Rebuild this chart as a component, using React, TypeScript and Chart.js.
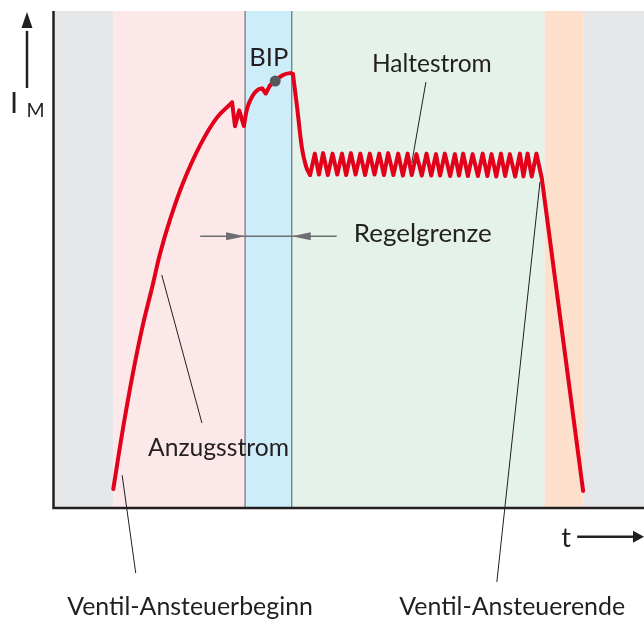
import { useEffect, useRef } from "react";
import { Chart, registerables } from "chart.js";

Chart.register(...registerables);

// ---- DATA (time t: 0..100 arbitrary units, current I_M: 0..100 arbitrary units) ----
const phaseBounds = [0, 10.2, 32.5, 40.4, 83.2, 89.8, 100];
const phaseNames = ["Ruhe", "Anzug", "Regelgrenze", "Halten", "Abschalten", "Ruhe"];

// pull-in current rise (smooth)
const riseCurve: [number, number][] = [
  [10.2, 3.8], [11.8, 15.7], [13.5, 27.0], [15.2, 36.8], [16.8, 44.5],
  [18.1, 51.1], [19.8, 58.0], [22.0, 65.4], [24.9, 73.0], [27.7, 78.5], [30.3, 81.6],
];
// first regulation spikes (straight)
const spikesA: [number, number][] = [
  [30.3, 81.6], [30.8, 76.8], [31.5, 80.0], [32.3, 76.9],
];
// hump after spikes (smooth)
const humpA: [number, number][] = [
  [32.3, 76.9], [32.9, 80.6], [33.8, 83.0], [34.7, 84.2], [35.4, 84.4],
];
// small notch (straight)
const notch: [number, number][] = [
  [35.4, 84.4], [36.0, 83.4], [36.7, 85.0],
];
// rise to maximum (smooth)
const humpB: [number, number][] = [
  [36.7, 85.0], [37.7, 86.1], [38.9, 87.1], [40.1, 87.5], [40.6, 87.3],
];
// drop to holding current (smooth)
const dropCurve: [number, number][] = [
  [40.6, 87.3], [41.3, 80.7], [42.1, 72.6], [42.8, 68.8], [43.5, 67.0],
];
// holding current ripple + switch-off (straight)
const holdCurve: [number, number][] = [
  [43.5, 67.0], [44.3, 71.3], [45.0, 67.1], [45.7, 71.4], [46.5, 67.0],
  [47.3, 71.3], [48.1, 67.1], [48.9, 71.3], [49.6, 67.0], [50.4, 71.4],
  [51.2, 67.1], [52.0, 71.3], [52.8, 67.0], [53.6, 71.3], [54.4, 67.1],
  [55.2, 71.3], [56.0, 67.0], [56.7, 71.4], [57.6, 67.0], [58.4, 71.3],
  [59.2, 66.9], [60.0, 71.3], [60.7, 67.0], [61.5, 71.2], [62.4, 66.9],
  [63.2, 71.3], [64.0, 66.9], [64.8, 71.2], [65.5, 66.9], [66.3, 71.3],
  [67.2, 66.8], [68.0, 71.2], [68.7, 66.9], [69.4, 71.3], [70.2, 66.8],
  [71.0, 71.2], [71.9, 66.8], [72.7, 71.3], [73.5, 66.8], [74.2, 71.2],
  [75.0, 66.7], [75.8, 71.3], [76.5, 66.8], [77.3, 71.2], [78.2, 66.7],
  [79.0, 71.3], [79.6, 66.7], [80.3, 71.3], [81.0, 66.7], [81.8, 71.3],
  [82.7, 66.4], [89.7, 3.4],
];
// BIP (begin of injection period) marker
const bipPoint: [number, number][] = [[37.6, 85.9]];

const labelTexts = [
  "BIP", "Haltestrom", "Regelgrenze", "Anzugsstrom",
  "Ventil-Ansteuerbeginn", "Ventil-Ansteuerende",
];
const axisTitles = ["I", "M", "t"];

// ---- STYLE ----
const FONT = 'Lato, "DejaVu Sans", sans-serif';
const TEXT = "#231f20";
const RED = "#e2001a";
const phaseColors = ["#e6e7e9", "#fce8e9", "#cdedfa", "#e4f2ea", "#fde0cb", "#e6e7e9"];

const toXY = (pts: [number, number][]) => pts.map(([x, y]) => ({ x, y }));

// label placement (data coords) + target widths (px)
const labelLayout = [
  { t: 36.5, i: 88.9, w: 39, align: "center" },
  { t: 64.1, i: 87.7, w: 120, align: "center" },
  { t: 50.9, i: 53.5, w: 138, align: "left" },
  { t: 28.0, i: 10.5, w: 141, align: "center" },
  { t: 23.2, i: -21.5, w: 246, align: "center" },
  { t: 77.7, i: -21.5, w: 226, align: "center" },
];
const leaders = [
  [63.1, 85.7, 60.7, 69.4],
  [18.4, 46.9, 25.2, 17.1],
  [11.7, 6.6, 14.0, -13.1],
  [82.4, 65.6, 75.1, -14.9],
];

const diagramPlugin = {
  id: "diagram",
  beforeDatasetsDraw(chart: any) {
    const { ctx, chartArea: a, scales } = chart;
    const x = scales.x;
    ctx.save();
    for (let k = 0; k < phaseNames.length; k++) {
      const x0 = x.getPixelForValue(phaseBounds[k]);
      const x1 = x.getPixelForValue(phaseBounds[k + 1]);
      ctx.fillStyle = phaseColors[k];
      ctx.fillRect(x0, a.top, x1 - x0, a.bottom - a.top);
    }
    ctx.strokeStyle = "#6d6e71";
    ctx.lineWidth = 1.2;
    for (const b of [phaseBounds[2], phaseBounds[3]]) {
      const px = x.getPixelForValue(b);
      ctx.beginPath();
      ctx.moveTo(px, a.top);
      ctx.lineTo(px, a.bottom);
      ctx.stroke();
    }
    ctx.restore();
  },
  afterDatasetsDraw(chart: any) {
    const { ctx, chartArea: a, scales } = chart;
    const X = (v: number) => scales.x.getPixelForValue(v);
    const Y = (v: number) => scales.y.getPixelForValue(v);
    ctx.save();

    // axes
    ctx.strokeStyle = TEXT;
    ctx.lineWidth = 2.5;
    ctx.beginPath();
    ctx.moveTo(a.left + 0.5, a.top);
    ctx.lineTo(a.left + 0.5, a.bottom);
    ctx.lineTo(a.right, a.bottom);
    ctx.stroke();

    // leader lines
    ctx.lineWidth = 1;
    ctx.strokeStyle = TEXT;
    for (const [t0, i0, t1, i1] of leaders) {
      ctx.beginPath();
      ctx.moveTo(X(t0), Y(i0));
      ctx.lineTo(X(t1), Y(i1));
      ctx.stroke();
    }

    const arrowHead = (tipX: number, tipY: number, dx: number, dy: number, len: number, half: number) => {
      const bx = tipX - dx * len, by = tipY - dy * len;
      ctx.beginPath();
      ctx.moveTo(tipX, tipY);
      ctx.lineTo(bx - dy * half, by + dx * half);
      ctx.lineTo(bx + dy * half, by - dx * half);
      ctx.closePath();
      ctx.fill();
    };

    // Regelgrenze arrows
    const ry = Y(54.7);
    const lx = X(phaseBounds[2]);
    const rx = X(phaseBounds[3]);
    ctx.strokeStyle = "#6d6e71";
    ctx.fillStyle = "#6d6e71";
    ctx.lineWidth = 1.5;
    ctx.beginPath();
    ctx.moveTo(X(24.9), ry);
    ctx.lineTo(X(48.0), ry);
    ctx.stroke();
    arrowHead(lx, ry, 1, 0, 19, 4);
    arrowHead(rx, ry, -1, 0, 19, 4);

    // y-axis arrow
    ctx.strokeStyle = TEXT;
    ctx.fillStyle = TEXT;
    ctx.lineWidth = 2.5;
    const ax = X(-4.4);
    ctx.beginPath();
    ctx.moveTo(ax, Y(84.5));
    ctx.lineTo(ax, Y(96));
    ctx.stroke();
    arrowHead(ax, Y(99.8), 0, -1, 16, 5.5);

    // t-axis arrow
    const ty = Y(-5.8);
    ctx.beginPath();
    ctx.moveTo(X(88.7), ty);
    ctx.lineTo(X(98.5), ty);
    ctx.stroke();
    arrowHead(X(100), ty, 1, 0, 11, 6);

    // texts
    ctx.fillStyle = TEXT;
    ctx.textBaseline = "alphabetic";
    labelTexts.forEach((txt, k) => {
      const L = labelLayout[k];
      ctx.font = `100px ${FONT}`;
      const w = ctx.measureText(txt).width;
      const size = (100 * L.w) / w;
      ctx.font = `${size}px ${FONT}`;
      ctx.textAlign = L.align;
      ctx.fillText(txt, X(L.t), Y(L.i));
    });
    ctx.textAlign = "center";
    ctx.font = `29px ${FONT}`;
    ctx.fillText(axisTitles[0], X(-6.6), Y(79.5));
    ctx.textAlign = "left";
    ctx.font = `19.5px ${FONT}`;
    ctx.fillText(axisTitles[1], X(-4.5), Y(78.7));
    ctx.textAlign = "center";
    ctx.font = `27px ${FONT}`;
    ctx.fillText(axisTitles[2], X(86.8), Y(-7.8));

    ctx.restore();
  },
};

export default function App() {
  const ref = useRef<HTMLCanvasElement | null>(null);
  useEffect(() => {
    if (!ref.current) return;
    const smooth = { tension: 0.4 };
    const mono = { cubicInterpolationMode: "monotone" as const };
    const straight = { tension: 0 };
    const base = {
      borderColor: RED,
      borderWidth: 4,
      pointRadius: 0,
      fill: false,
      borderJoinStyle: "round" as const,
      borderCapStyle: "round" as const,
    };
    const chart = new Chart(ref.current, {
      type: "line",
      data: {
        datasets: [
          {
            label: "BIP",
            data: toXY(bipPoint),
            showLine: false,
            pointRadius: 5.5,
            pointBackgroundColor: "#58595b",
            pointBorderWidth: 0,
            borderColor: "#58595b",
          },
          { label: "Anzugsstrom", data: toXY(riseCurve), ...base, ...smooth },
          { label: "Regelspitzen", data: toXY(spikesA), ...base, ...straight },
          { label: "Anstieg", data: toXY(humpA), ...base, ...smooth },
          { label: "Kerbe", data: toXY(notch), ...base, ...straight },
          { label: "Maximum", data: toXY(humpB), ...base, ...smooth },
          { label: "Abfall", data: toXY(dropCurve), ...base, ...mono },
          { label: "Haltestrom", data: toXY(holdCurve), ...base, ...straight },
        ],
      },
      options: {
        animation: false,
        responsive: false,
        devicePixelRatio: 1,
        layout: { autoPadding: false, padding: { left: 53, top: 11, right: 0, bottom: 114 } },
        scales: {
          x: { type: "linear", min: 0, max: 100, display: false },
          y: { type: "linear", min: 0, max: 100, display: false },
        },
        plugins: { legend: { display: false }, tooltip: { enabled: false } },
        events: [],
      },
      plugins: [diagramPlugin],
    });
    return () => chart.destroy();
  }, []);
  return (
    <div style={{ position: "fixed", left: 0, top: 0, width: 644, height: 622, background: "#fff" }}>
      <canvas ref={ref} width={644} height={622} style={{ display: "block" }} />
    </div>
  );
}
